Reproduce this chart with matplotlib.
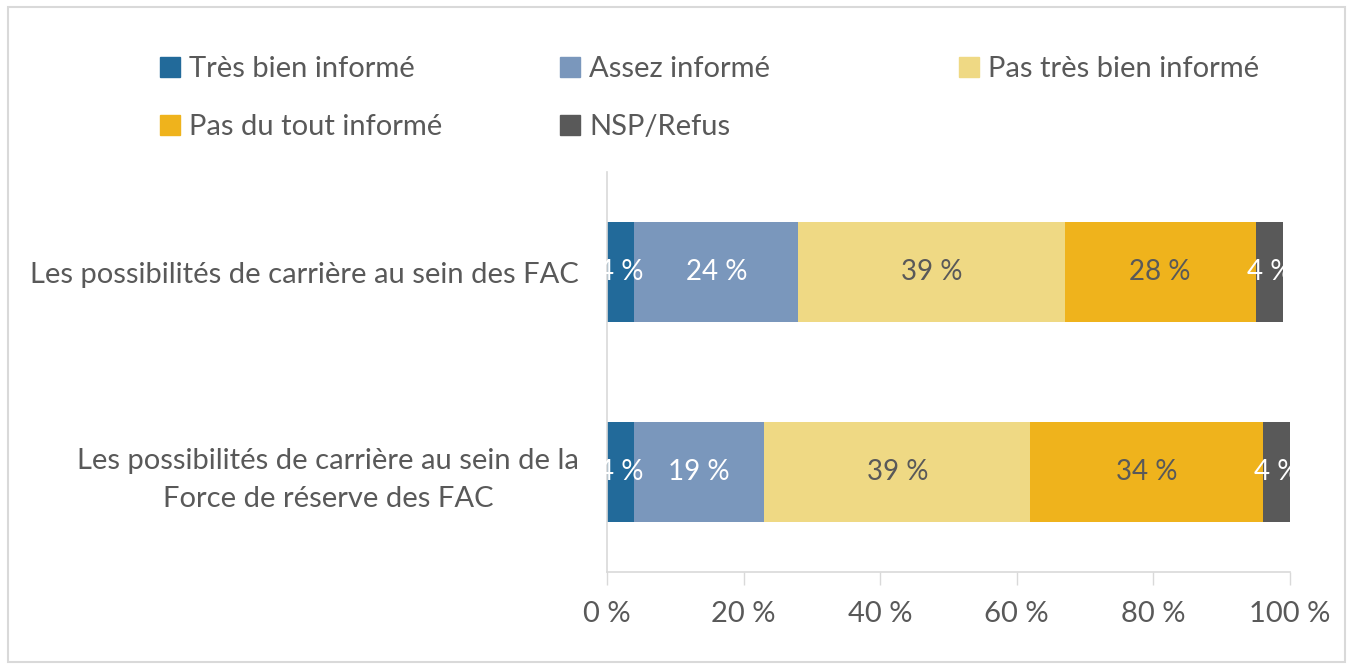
import matplotlib.pyplot as plt
from matplotlib.patches import Rectangle, Patch

plt.rcParams["font.family"] = ["Lato", "DejaVu Sans"]

# Data
categories = [
    "Les possibilités de carrière au sein de la\nForce de réserve des FAC",
    "Les possibilités de carrière au sein des FAC",
]
series = ["Très bien informé", "Assez informé", "Pas très bien informé",
          "Pas du tout informé", "NSP/Refus"]
values = [
    [4, 4],
    [19, 24],
    [39, 39],
    [34, 28],
    [4, 4],
]
colors = ["#226A9A", "#7A97BC", "#EFD984", "#EFB31C", "#595959"]
label_colors = ["white", "white", "#595959", "#595959", "white"]
ticks = [0, 20, 40, 60, 80, 100]
tick_labels = ["0 %", "20 %", "40 %", "60 %", "80 %", "100 %"]

text_gray = "#595959"
line_gray = "#D9D9D9"

fig = plt.figure(figsize=(13.53, 6.69), dpi=100)
ax = fig.add_axes([607 / 1353, 1 - 572 / 669, 683 / 1353, 400 / 669])

ypos = list(range(len(categories)))
left = [0] * len(categories)
for i, name in enumerate(series):
    ax.barh(ypos, values[i], left=left, height=0.5, color=colors[i], label=name)
    for j, v in enumerate(values[i]):
        ax.text(left[j] + v / 2, ypos[j], f"{v} %", ha="center", va="center",
                fontsize=20, color=label_colors[i])
    left = [l + v for l, v in zip(left, values[i])]

ax.set_xlim(0, 100)
ax.set_ylim(-0.5, 1.5)
ax.set_xticks(ticks)
ax.set_xticklabels(tick_labels, fontsize=21, color=text_gray)
ax.set_yticks(ypos)
ax.set_yticklabels(categories, fontsize=21, color=text_gray,
                   multialignment="center", linespacing=1.55)
ax.tick_params(axis="y", length=0, pad=20)
ax.tick_params(axis="x", length=9, width=1, color=line_gray, pad=12)

for side in ["top", "right"]:
    ax.spines[side].set_visible(False)
for side in ["left", "bottom"]:
    ax.spines[side].set_color(line_gray)
    ax.spines[side].set_linewidth(1.2)

# Legend: three columns of equal width, like the original
cols = [[0, 3], [1, 4], [2]]
col_x = [160, 560, 959]
for idx, xpx in zip(cols, col_x):
    leg = fig.legend([Patch(color=colors[k]) for k in idx], [series[k] for k in idx],
                     loc="upper left", bbox_to_anchor=(xpx / 1353, 1 - 56 / 669),
                     frameon=False, fontsize=21, handlelength=0.7, handleheight=0.7,
                     handletextpad=0.3, labelspacing=1.1, borderpad=0, borderaxespad=0)
    for t in leg.get_texts():
        t.set_color(text_gray)

# Outer frame
fig.patches.append(Rectangle((8 / 1353, 7 / 669), 1337 / 1353, 655 / 669,
                             transform=fig.transFigure, fill=False,
                             edgecolor=line_gray, linewidth=1.5))

fig.savefig("out.png", dpi=100)
